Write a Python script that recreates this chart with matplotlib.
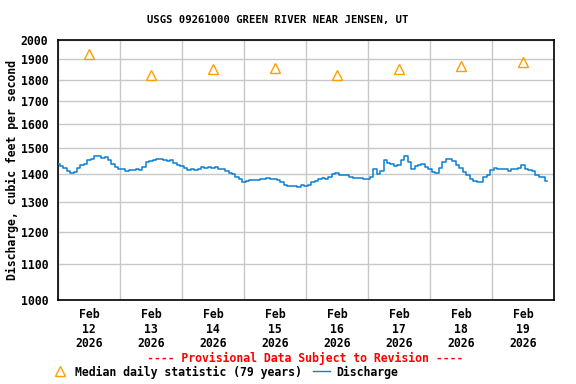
import matplotlib
matplotlib.use("Agg")
import matplotlib.pyplot as plt
import matplotlib.dates as mdates
from matplotlib.lines import Line2D
import pandas as pd

# discharge, cfs, every 80 minutes from Feb 12 00:00
flow_feb12 = [1438, 1429, 1422, 1409, 1404, 1406, 1422, 1432, 1438, 1454, 1458, 1468, 1468, 1460, 1464, 1451, 1438, 1425]
flow_feb13 = [1419, 1417, 1409, 1413, 1413, 1417, 1413, 1426, 1445, 1449, 1451, 1455, 1455, 1451, 1447, 1451, 1442, 1432]
flow_feb14 = [1428, 1422, 1413, 1417, 1413, 1419, 1426, 1422, 1426, 1422, 1426, 1419, 1417, 1409, 1404, 1400, 1387, 1380]
flow_feb15 = [1371, 1374, 1378, 1378, 1378, 1381, 1381, 1383, 1381, 1381, 1378, 1371, 1358, 1355, 1355, 1355, 1353, 1358]
flow_feb16 = [1355, 1358, 1371, 1374, 1381, 1383, 1381, 1387, 1400, 1404, 1396, 1394, 1396, 1387, 1383, 1383, 1383, 1380]
flow_feb17 = [1381, 1387, 1419, 1400, 1409, 1451, 1442, 1438, 1429, 1433, 1451, 1468, 1445, 1419, 1429, 1432, 1438, 1426]
flow_feb18 = [1419, 1406, 1402, 1420, 1445, 1455, 1455, 1448, 1435, 1420, 1407, 1394, 1381, 1374, 1371, 1368, 1387, 1396]
flow_feb19 = [1413, 1422, 1417, 1419, 1417, 1409, 1417, 1417, 1422, 1432, 1417, 1413, 1409, 1396, 1387, 1387, 1375]

median_days = ["2026-02-12 12:00", "2026-02-13 12:00", "2026-02-14 12:00", "2026-02-15 12:00",
               "2026-02-16 12:00", "2026-02-17 12:00", "2026-02-18 12:00", "2026-02-19 12:00"]
median_vals = [1925, 1824, 1849, 1855, 1824, 1849, 1867, 1887]

y_ticks = [1000, 1100, 1200, 1300, 1400, 1500, 1600, 1700, 1800, 1900, 2000]

flow = (flow_feb12 + flow_feb13 + flow_feb14 + flow_feb15 +
        flow_feb16 + flow_feb17 + flow_feb18 + flow_feb19)
times = pd.date_range("2026-02-12 00:00", periods=len(flow), freq="80min")
med_t = pd.to_datetime(median_days)

font = "DejaVu Sans Mono"
fs = 8.3

fig = plt.figure(figsize=(5.76, 3.84), dpi=100)
ax = fig.add_axes([58 / 576, 1 - 300 / 384, 496 / 576, 260 / 384])

ax.plot(times, flow, color="#0a80d2", lw=1.1, drawstyle="steps-mid", zorder=3)
ax.plot(med_t, median_vals, linestyle="none", marker="^", markersize=7,
        markerfacecolor="none", markeredgecolor="#ff9e00", markeredgewidth=1.0, zorder=4)

ax.set_yscale("log")
ax.set_ylim(1000, 2000)
ax.set_yticks(y_ticks)
ax.set_yticklabels([str(v) for v in y_ticks])
ax.yaxis.set_minor_locator(plt.NullLocator())

ax.set_xlim(pd.Timestamp("2026-02-12"), pd.Timestamp("2026-02-20"))
ax.xaxis.set_major_locator(mdates.DayLocator())
ax.xaxis.set_major_formatter(plt.NullFormatter())
ax.xaxis.set_minor_locator(mdates.HourLocator(byhour=12))
ax.xaxis.set_minor_formatter(mdates.DateFormatter("Feb\n%d\n%Y"))

ax.grid(True, which="major", color="#c8c8c8", lw=1.0)
ax.tick_params(which="both", length=0)
ax.tick_params(axis="y", pad=7)
ax.tick_params(axis="x", which="minor", pad=6)
for lab in ax.get_yticklabels() + ax.get_xticklabels(minor=True):
    lab.set_fontfamily(font)
    lab.set_fontweight("bold")
    lab.set_fontsize(fs)
    lab.set_linespacing(1.15)
for s in ax.spines.values():
    s.set_linewidth(1.2)
    s.set_color("black")

ax.set_ylabel("Discharge, cubic feet per second", fontfamily=font, fontweight="bold",
              fontsize=fs, labelpad=1)

fig.text(278 / 576, 1 - 20 / 384, "USGS 09261000 GREEN RIVER NEAR JENSEN, UT", ha="center",
         va="center", fontfamily=font, fontweight="bold", fontsize=7.6)
fig.text(305 / 576, 1 - 358 / 384, "---- Provisional Data Subject to Revision ----", ha="center",
         va="center", fontfamily=font, fontweight="bold", fontsize=fs, color="#ff0000")

# legend row
fig.add_artist(Line2D([60 / 576], [1 - 371 / 384], marker="^", markersize=7, linestyle="none",
                      markerfacecolor="none", markeredgecolor="#ff9e00", markeredgewidth=1.0,
                      transform=fig.transFigure))
fig.text(75 / 576, 1 - 372 / 384, "Median daily statistic (79 years)", ha="left", va="center",
         fontfamily=font, fontweight="bold", fontsize=fs)
fig.add_artist(Line2D([313 / 576, 330 / 576], [1 - 371 / 384, 1 - 371 / 384], color="#0a80d2",
                      lw=1.0, transform=fig.transFigure))
fig.text(336 / 576, 1 - 372 / 384, "Discharge", ha="left", va="center",
         fontfamily=font, fontweight="bold", fontsize=fs)

fig.savefig("out.png", dpi=100)
